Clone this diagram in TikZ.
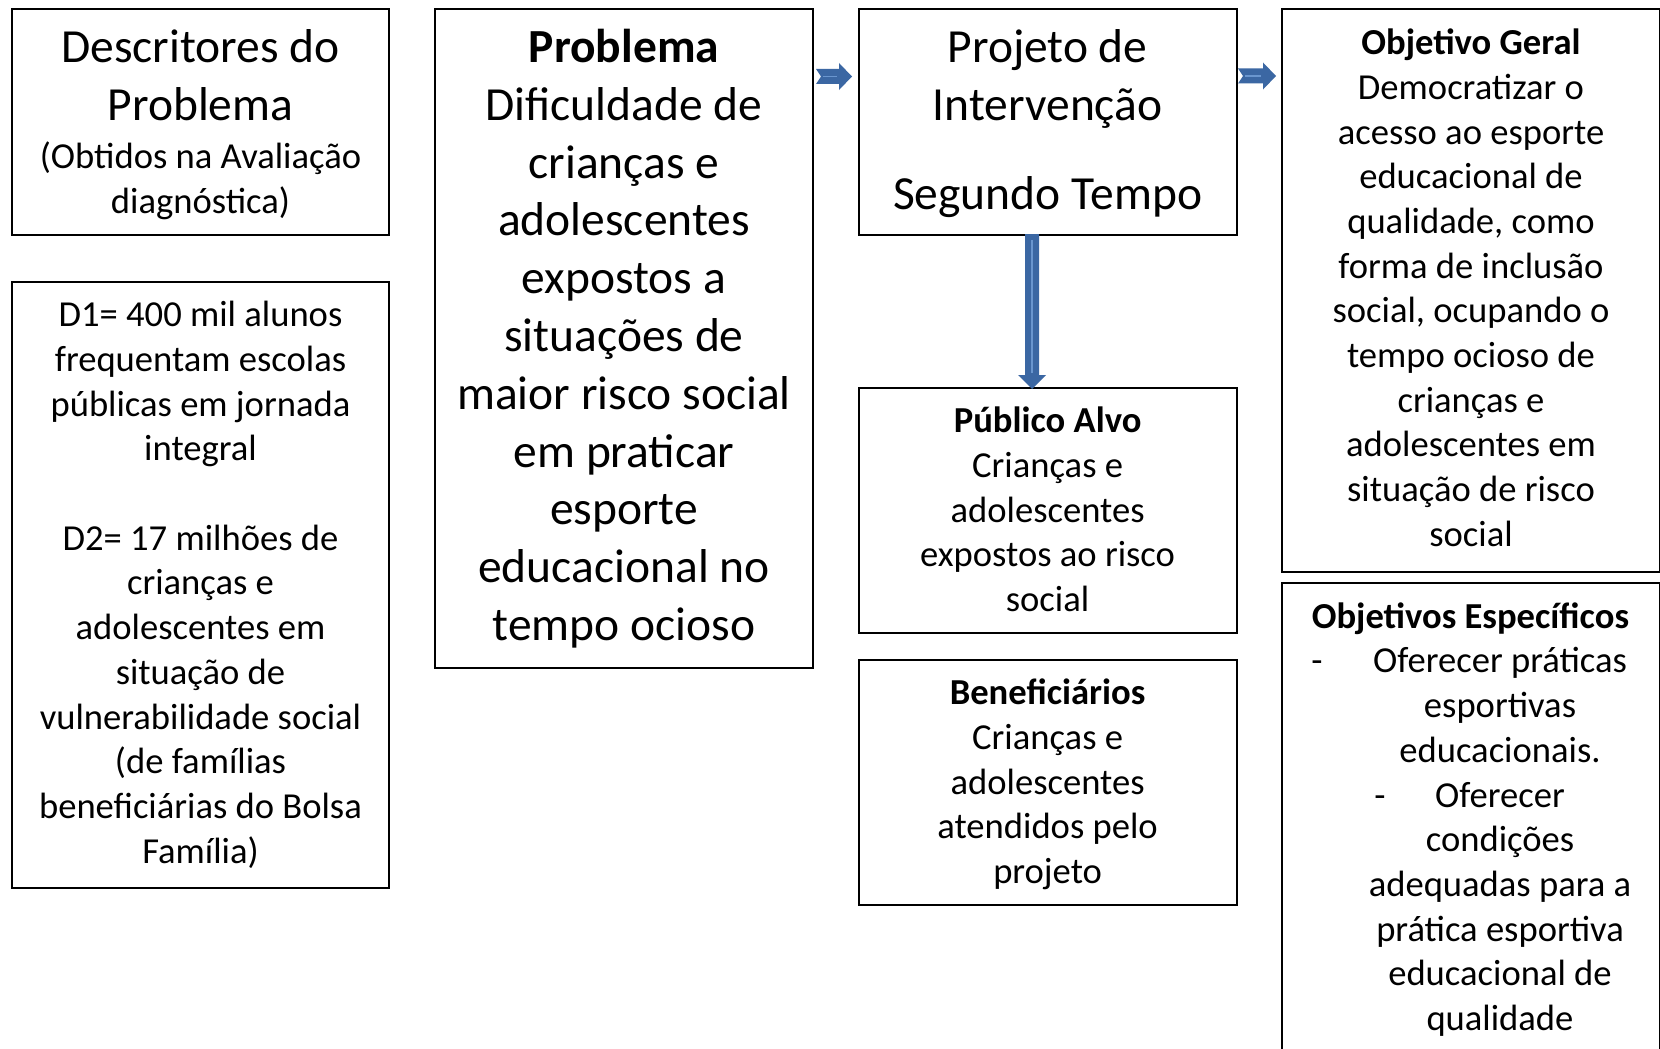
\documentclass[tikz,border=0pt]{standalone}
\usepackage{fontspec}
\setmainfont{Carlito}
\usetikzlibrary{calc}
\definecolor{arrfill}{HTML}{3B67A3}
\definecolor{arrhl}{HTML}{6A96CF}
\newcommand\bt[1]{\begin{tabular}[t]{@{}c@{}}#1\end{tabular}}
\newcommand\bigf{\fontsize{47.5}{57.8}\selectfont}
\newcommand\smf{\fontsize{36.6}{44.7}\selectfont}
\newcommand\harrow[2]{%
  \fill[arrfill] ($(#1)+(0,-7.5)$) -- ($(#2)+(-13,-7.5)$) -- ($(#2)+(-13,-13.5)$) -- (#2)
    -- ($(#2)+(-13,13.5)$) -- ($(#2)+(-13,7.5)$) -- ($(#1)+(0,7.5)$) -- ($(#1)+(5,0)$) -- cycle;
  \draw[arrhl, line width=1.5pt] ($(#1)+(7,0)$) -- ($(#2)+(-15,0)$);}
\begin{document}
\begin{tikzpicture}[x=1pt,y=-1pt,
  box/.style={draw=black, line width=2pt, inner sep=0pt, rectangle},
  txt/.style={anchor=base, inner sep=0pt}]
\useasboundingbox (0,0) rectangle (1660,1049);
\clip (0,0) rectangle (1660,1049);
\fill[white] (0,0) rectangle (1660,1049);
% boxes
\node[box, minimum width=377pt, minimum height=225.5pt] (b1) at (200.5,122.25) {};
\node[box, minimum width=377pt, minimum height=606.7pt] (b2) at (200.5,585) {};
\node[box, minimum width=378pt, minimum height=658.5pt] (b3) at (624,338.75) {};
\node[box, minimum width=378pt, minimum height=225.5pt] (b4) at (1047.6,122.25) {};
\node[box, minimum width=378pt, minimum height=245.5pt] (b5) at (1047.6,510.25) {};
\node[box, minimum width=378pt, minimum height=245.6pt] (b6) at (1047.6,782.4) {};
\node[box, minimum width=378pt, minimum height=562.2pt] (b7) at (1471,290.6) {};
\node[box, minimum width=378pt, minimum height=487pt] (b8) at (1471,826.5) {};
% texts
\node[txt, font=\bigf] (t1a) at (200.5,62.6) {\bt{Descritores do\\Problema}};
\node[txt, font=\smf] (t1b) at (200.5,168.7) {\bt{(Obtidos na Avaliação\\diagnóstica)}};
\node[txt, font=\smf] (t2) at (200.5,326.7) {\bt{D1= 400 mil alunos\\frequentam escolas\\públicas em jornada\\integral\\ \\D2= 17 milhões de\\crianças e\\adolescentes em\\situação de\\vulnerabilidade social\\(de famílias\\beneficiárias do Bolsa\\Família)}};
\node[txt, font=\bigf] (t3) at (624,62.6) {\bt{\textbf{Problema}\\Dificuldade de\\crianças e\\adolescentes\\expostos a\\situações de\\maior risco social\\em praticar\\esporte\\educacional no\\tempo ocioso}};
\node[txt, font=\bigf] (t4a) at (1047.6,62.6) {\bt{Projeto de\\Intervenção}};
\node[txt, font=\bigf] (t4b) at (1047.6,209.5) {Segundo Tempo};
\node[txt, font=\smf] (t5) at (1047.6,432.7) {\bt{\textbf{Público Alvo}\\Crianças e\\adolescentes\\expostos ao risco\\social}};
\node[txt, font=\smf] (t6) at (1047.6,704.7) {\bt{\textbf{Beneficiários}\\Crianças e\\adolescentes\\atendidos pelo\\projeto}};
\node[txt, font=\smf] (t7) at (1471,54.7) {\bt{\textbf{Objetivo Geral}\\Democratizar o\\acesso ao esporte\\educacional de\\qualidade, como\\forma de inclusão\\social, ocupando o\\tempo ocioso de\\crianças e\\adolescentes em\\situação de risco\\social}};
\node[txt, font=\smf] (t8a) at (1470.5,628.2) {\textbf{Objetivos Específicos}};
\node[txt, font=\smf] (t8b) at (1500,672.9) {\bt{Oferecer práticas\\esportivas\\educacionais.\\Oferecer\\condições\\adequadas para a\\prática esportiva\\educacional de\\qualidade}};
\node[txt, font=\smf] (d1) at (1317,672.9) {-};
\node[txt, font=\smf] (d2) at (1380,807) {-};
% arrows
\coordinate (a1s) at ($(b3.east |- 0,76.5)+(2,0)$);
\coordinate (a1e) at ($(b4.west |- 0,76.5)+(-5.6,0)$);
\harrow{a1s}{a1e}
\coordinate (a2s) at ($(b4.east |- 0,76)+(0.4,0)$);
\coordinate (a2e) at ($(b7.west |- 0,76)+(-5,0)$);
\harrow{a2s}{a2e}
\coordinate (a3s) at ($(b4.south -| 1032,0)+(0,-2)$);
\coordinate (a3e) at ($(b5.north -| 1032,0)+(0,2.5)$);
\fill[arrfill] ($(a3s)+(-7,0)$) -- ($(a3e)+(-7,-14)$) -- ($(a3e)+(-14,-14)$) -- (a3e)
  -- ($(a3e)+(14,-14)$) -- ($(a3e)+(7,-14)$) -- ($(a3s)+(7,0)$) -- cycle;
\draw[arrhl, line width=1.5pt] ($(a3s)+(0,6)$) -- ($(a3e)+(0,-16)$);
\end{tikzpicture}
\end{document}
